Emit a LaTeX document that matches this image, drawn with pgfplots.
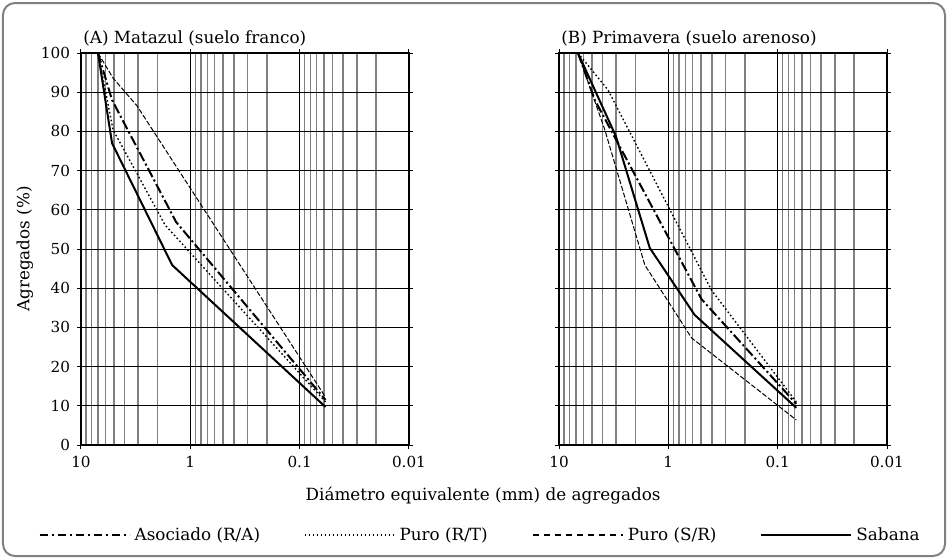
\documentclass[border=0pt]{standalone}
\usepackage{fontspec}
\setmainfont{DejaVu Serif}
\usepackage{pgfplots}
\pgfplotsset{compat=1.18}

\newcommand\txt{\fontsize{8.4}{10}\selectfont}
\newcommand\tck{\fontsize{7.6}{9}\selectfont}

\pgfplotsset{
  soilpanel/.style={
    scale only axis, width=164pt, height=196pt,
    x dir=reverse, xmin=0.01, xmax=10,
    ymin=0, ymax=100, ytick={0,10,...,100},
    xtick={0.01,0.1,1,10}, xticklabels={0.01,0.1,1,10},
    minor xtick={0.02,0.03,0.04,0.05,0.06,0.07,0.08,0.09,
                 0.2,0.3,0.4,0.5,0.6,0.7,0.8,0.9,
                 2,3,4,5,6,7,8,9},
    grid=both,
    major grid style={black, line width=0.5pt},
    minor grid style={black!50, line width=0.75pt},
    axis line style={black, line width=0.6pt},
    tick align=outside, major tick length=2pt, minor tick length=0pt,
    tick style={black, line width=0.5pt},
    ticklabel style={font=\tck},
    /pgf/number format/assume math mode=true,
    title style={at={(0,1)}, anchor=base west, yshift=-1pt, xshift=1pt,
                 inner sep=0pt, font=\txt},
    label style={font=\txt},
  },
  asoc/.style={black, line width=1pt, dash pattern=on 5pt off 1.5pt on 1pt off 1.5pt},
  rt/.style={black, line width=0.7pt, dash pattern=on 0.8pt off 1.2pt},
  sr/.style={black, line width=0.5pt, dash pattern=on 2.5pt off 1pt},
  sab/.style={black, line width=1pt},
}

\begin{document}
\begin{tikzpicture}
\useasboundingbox (-40.5pt,-57pt) rectangle (433.5pt,222.5pt);
\draw[rounded corners=6pt, black!50, line width=1pt] (-39pt,-55.5pt) rectangle (432pt,221pt);

% (A) Matazul
\begin{semilogxaxis}[soilpanel,
    title={(A) Matazul (suelo franco)},
    ylabel={Agregados (\%)},
    ylabel style={at={(axis description cs:-0.171,0.5)}, anchor=center},
    xlabel={Diámetro equivalente (mm) de agregados},
    xlabel style={at={(axis description cs:1.226,-0.128)}, anchor=center},
    legend columns=4,
    legend style={at={(axis description cs:1.22,-0.23)}, anchor=center,
        draw=none, fill=none, font=\txt,
        /tikz/every even column/.append style={column sep=20pt}},
    legend image code/.code={\draw[#1] (0pt,0pt) -- (45pt,0pt);},
  ]
\addplot[asoc, forget plot] coordinates {(6.99,100) (5.20,88.0) (1.35,56.9) (0.058,11.5)};
\addplot[rt, forget plot] coordinates {(6.99,100) (5.09,80.4) (1.70,56.1) (0.058,11.0)};
\addplot[sr, forget plot] coordinates {(6.99,100) (5.09,93.6) (3.07,86.5) (0.058,12.2)};
\addplot[sab, forget plot] coordinates {(6.99,100) (5.20,77.0) (1.466,45.9) (0.058,9.7)};

\addlegendimage{black, line width=1pt, dash pattern=on 4pt off 2pt on 1pt off 2pt}
\addlegendentry{Asociado (R/A)}
\addlegendimage{rt}
\addlegendentry{Puro (R/T)}
\addlegendimage{black, line width=1.1pt, dash pattern=on 3pt off 2.5pt}
\addlegendentry{Puro (S/R)}
\addlegendimage{sab}
\addlegendentry{Sabana}
\end{semilogxaxis}

% (B) Primavera
\begin{semilogxaxis}[soilpanel, at={(239pt,0pt)}, anchor=south west,
    title={(B) Primavera (suelo arenoso)},
    yticklabels={},
  ]
\addplot[asoc] coordinates {(6.71,100) (4.70,88.0) (0.497,37.2) (0.0676,10.5)};
\addplot[rt] coordinates {(6.71,100) (3.57,90.6) (0.403,39.5) (0.0676,11.0)};
\addplot[sr] coordinates {(6.71,100) (3.81,80.4) (1.64,45.9) (0.612,27.3) (0.0676,6.4)};
\addplot[sab] coordinates {(6.71,100) (3.02,78.8) (1.48,50.3) (0.575,33.2) (0.0676,9.5)};
\end{semilogxaxis}
\end{tikzpicture}
\end{document}
